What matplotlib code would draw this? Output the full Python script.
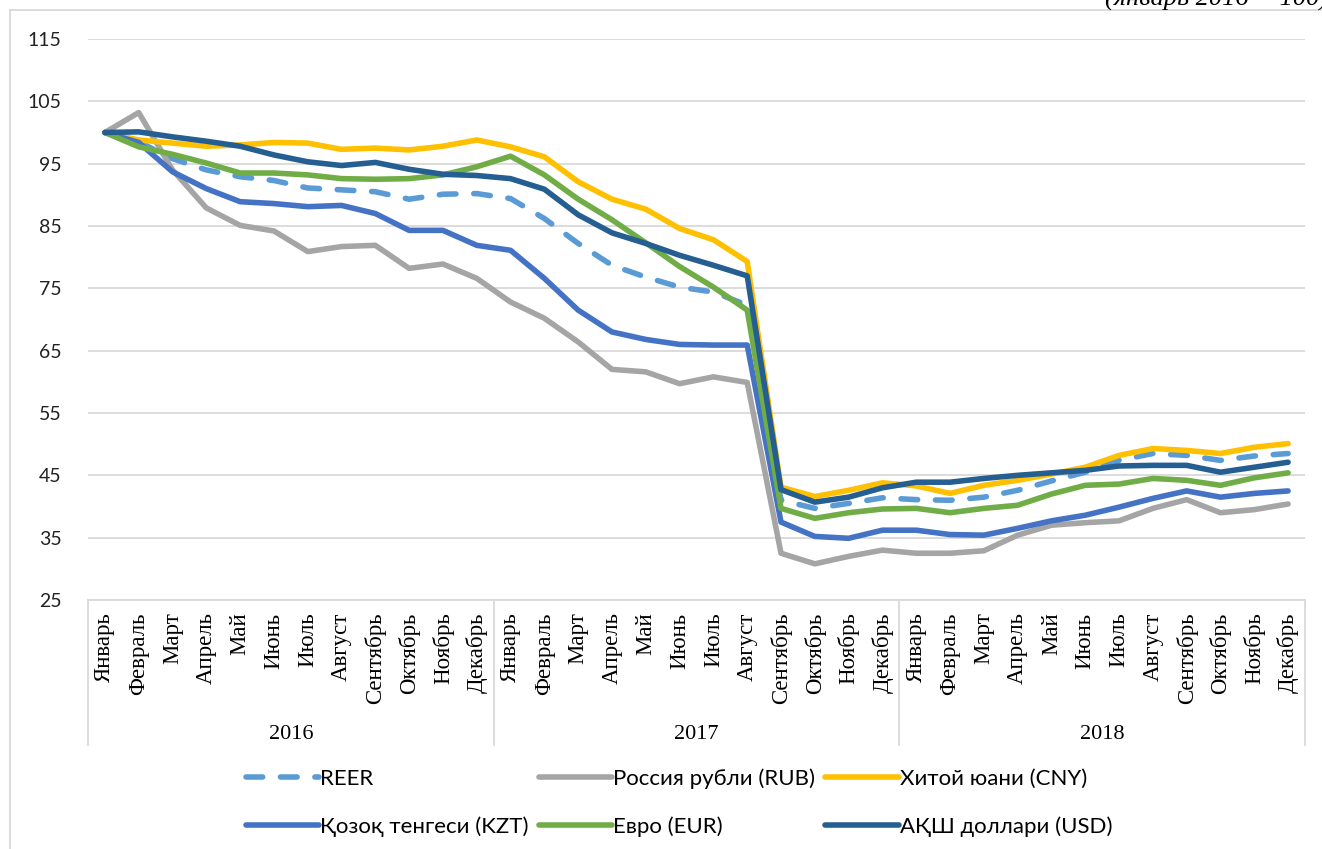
import matplotlib
matplotlib.use("Agg")
import matplotlib.pyplot as plt
from matplotlib.lines import Line2D
import matplotlib.transforms as mtransforms

months = ["Январь", "Февраль", "Март", "Апрель", "Май", "Июнь", "Июль",
          "Август", "Сентябрь", "Октябрь", "Ноябрь", "Декабрь"]
years = ["2016", "2017", "2018"]

reer = [100, 98.5, 95.8, 94.0, 92.9, 92.3, 91.1, 90.8, 90.5, 89.3, 90.1, 90.2,
        89.4, 86.2, 82.2, 78.7, 76.8, 75.2, 74.4, 72.3, 41.0, 39.7, 40.5, 41.4,
        41.1, 41.0, 41.5, 42.6, 44.1, 45.5, 47.4, 48.5, 48.2, 47.4, 48.1, 48.5]
rub = [100, 103.2, 94.0, 87.9, 85.1, 84.2, 80.9, 81.7, 81.9, 78.2, 78.9, 76.6,
       72.8, 70.2, 66.4, 62.0, 61.6, 59.7, 60.8, 59.9, 32.5, 30.8, 32.0, 33.0,
       32.5, 32.5, 32.9, 35.4, 37.0, 37.4, 37.7, 39.7, 41.1, 39.0, 39.5, 40.4]
cny = [100, 98.8, 98.3, 97.8, 98.0, 98.4, 98.3, 97.3, 97.5, 97.2, 97.8, 98.8,
       97.7, 96.1, 92.1, 89.3, 87.7, 84.6, 82.8, 79.3, 43.1, 41.6, 42.6, 43.8,
       43.3, 42.1, 43.4, 44.2, 45.2, 46.3, 48.2, 49.3, 49.0, 48.5, 49.5, 50.1]
kzt = [100, 98.4, 93.7, 91.0, 88.9, 88.6, 88.1, 88.3, 87.0, 84.3, 84.3, 81.9,
       81.1, 76.6, 71.5, 68.0, 66.8, 66.0, 65.9, 65.9, 37.5, 35.2, 34.9, 36.2,
       36.2, 35.5, 35.4, 36.5, 37.7, 38.6, 39.9, 41.3, 42.5, 41.5, 42.1, 42.5]
eur = [100, 97.7, 96.5, 95.1, 93.5, 93.5, 93.2, 92.6, 92.5, 92.6, 93.2, 94.5,
       96.2, 93.2, 89.3, 86.0, 82.3, 78.5, 75.2, 71.5, 39.7, 38.1, 39.0, 39.6,
       39.7, 39.0, 39.7, 40.2, 42.0, 43.4, 43.6, 44.5, 44.2, 43.4, 44.6, 45.4]
usd = [100, 100.1, 99.3, 98.6, 97.8, 96.4, 95.3, 94.7, 95.2, 94.1, 93.3, 93.1,
       92.6, 90.9, 86.8, 83.9, 82.2, 80.3, 78.7, 77.0, 42.7, 40.7, 41.5, 43.0,
       43.9, 43.9, 44.5, 45.0, 45.4, 45.8, 46.5, 46.6, 46.6, 45.5, 46.3, 47.1]

labels = ["REER", "Россия рубли (RUB)", "Хитой юани (CNY)",
          "Қозоқ тенгеси (KZT)", "Евро (EUR)", "АҚШ доллари (USD)"]
colors = ["#5B9BD5", "#A5A5A5", "#FFC000", "#4472C4", "#70AD47", "#255E91"]

x = list(range(len(months) * len(years)))
grid_c = "#D9D9D9"

fig = plt.figure(figsize=(13.22, 8.49), dpi=100)
ax = fig.add_axes([88 / 1322, 1 - 600 / 849, (1305 - 88) / 1322, 561 / 849])

lines = {}
for lab, col, ys in zip(labels, colors, [reer, rub, cny, kzt, eur, usd]):
    if lab == "REER":
        ln, = ax.plot(x, ys, color=col, lw=4, dashes=(3.0, 3.2),
                      dash_capstyle="round", solid_joinstyle="round")
    else:
        ln, = ax.plot(x, ys, color=col, lw=4, solid_joinstyle="round",
                      solid_capstyle="round")
    lines[lab] = ln

ax.set_xlim(-0.5, len(x) - 0.5)
ax.set_ylim(25, 115)
ax.set_yticks(range(25, 116, 10))
ax.yaxis.grid(True, color=grid_c, lw=1.3)
ax.set_axisbelow(True)
for s in ["left", "top", "right"]:
    ax.spines[s].set_visible(False)
ax.spines["bottom"].set_color(grid_c)
ax.spines["bottom"].set_linewidth(1.3)
ax.tick_params(axis="y", length=0, pad=19, labelsize=14, labelcolor="#222222")
for t in ax.get_yticklabels():
    t.set_family("Lato")

ax.set_xticks(x)
ax.set_xticklabels(months * len(years), rotation=90, family="Liberation Serif",
                   fontsize=16.5, va="top")
ax.tick_params(axis="x", length=0, pad=9)

trans = mtransforms.blended_transform_factory(ax.transData, ax.transAxes)
for i in range(len(years) + 1):
    xb = i * 12 - 0.5
    ax.add_line(Line2D([xb, xb], [0, -0.258], transform=trans, color=grid_c,
                       lw=1.3, clip_on=False))
for i, yr in enumerate(years):
    ax.text(i * 12 + 5.5, -0.24, yr, transform=trans, ha="center", va="center",
            family="Liberation Serif", fontsize=16)

# legend: column-major order
order = ["REER", "Қозоқ тенгеси (KZT)", "Россия рубли (RUB)", "Евро (EUR)",
         "Хитой юани (CNY)", "АҚШ доллари (USD)"]
fig.legend([lines[k] for k in order], order, ncol=3, loc="upper left",
           bbox_to_anchor=(246 / 1322, 1 - 768 / 849), frameon=False,
           prop={"family": "Lato", "size": 16}, handlelength=3.3,
           handletextpad=0.05, columnspacing=0.45, labelspacing=1.25,
           borderpad=0, borderaxespad=0)

# outer chart frame
fig.add_artist(Line2D([10 / 1322, 1], [1 - 10 / 849, 1 - 10 / 849],
                      color=grid_c, lw=1.3, transform=fig.transFigure))
fig.add_artist(Line2D([10 / 1322, 10 / 1322], [0, 1 - 10 / 849],
                      color=grid_c, lw=1.3, transform=fig.transFigure))

# cut-off caption at top
fig.text(1105 / 1322, 1 - 6 / 849, "(январь 2016 = 100)", ha="left",
         va="baseline", family="Liberation Serif", style="italic", fontsize=19)

fig.savefig("out.png", dpi=100)
